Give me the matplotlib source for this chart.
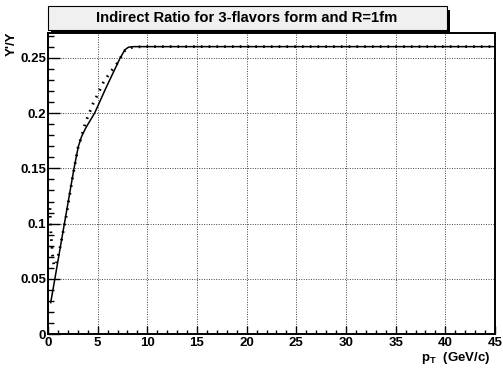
import matplotlib
matplotlib.use("Agg")
import matplotlib.pyplot as plt
from matplotlib.ticker import MultipleLocator, FixedLocator
from matplotlib.patches import Rectangle

plt.rcParams['font.family'] = ['Liberation Sans', 'DejaVu Sans']
plt.rcParams['mathtext.fontset'] = 'custom'
plt.rcParams['mathtext.bf'] = 'Liberation Sans:bold'
plt.rcParams['mathtext.rm'] = 'Liberation Sans:bold'

title = "Indirect Ratio for 3-flavors form and R=1fm"
x_label = "p$_\\mathbf{T}$  (GeV/c)"
y_label = "Y'/Y"

pt_solid = [0.27, 0.7, 1.54, 2.62, 3.05, 3.39, 3.83, 4.7, 5.8, 7.25, 7.75, 8.1, 8.6, 45.0]
ratio_solid = [0.0286, 0.0506, 0.0943, 0.150, 0.1696, 0.179, 0.187, 0.200, 0.222,
               0.2495, 0.2572, 0.2595, 0.26, 0.26]

pt_dot = [0.2, 0.3, 0.45, 0.6, 0.8, 1.2, 1.8, 2.5, 3.05, 3.39, 3.79, 4.16, 4.56,
          5.07, 5.57, 6.24, 7.18, 7.59, 8.09, 8.6, 9.5, 45.0]
ratio_dot = [0.114, 0.09, 0.072, 0.062, 0.062, 0.078, 0.105, 0.143, 0.170, 0.179,
             0.192, 0.200, 0.209, 0.218, 0.2275, 0.2365, 0.2474, 0.2555, 0.2586,
             0.2595, 0.26, 0.26]

x_ticks = [0, 5, 10, 15, 20, 25, 30, 35, 40, 45]
y_ticks = [0, 0.05, 0.1, 0.15, 0.2, 0.25]
y_tick_labels = ["0", "0.05", "0.1", "0.15", "0.2", "0.25"]

W, H = 503, 371
fig = plt.figure(figsize=(W / 100, H / 100), dpi=100)
ax = fig.add_axes([48 / W, 1 - 334.3 / H, (495 - 48) / W, (334.3 - 32.7) / H])

ax.plot(pt_solid, ratio_solid, color='black', lw=1.1, solid_joinstyle='round')
ax.plot(pt_dot, ratio_dot, color='black', lw=2.0, linestyle=(0, (0.6, 2.2)))

ax.set_xlim(0, 45)
ax.set_ylim(0, 0.2726)
ax.xaxis.set_major_locator(FixedLocator(x_ticks))
ax.xaxis.set_minor_locator(MultipleLocator(1))
ax.yaxis.set_major_locator(FixedLocator(y_ticks))
ax.yaxis.set_minor_locator(MultipleLocator(0.01))
ax.set_yticklabels(y_tick_labels)

ax.grid(True, which='major', color='#444444', linestyle=(0, (1, 1.5)), lw=0.7)
ax.tick_params(axis='both', which='both', direction='in', top=False, right=False,
               width=1.0, labelsize=9.5)
ax.tick_params(axis='x', which='major', length=6, pad=2)
ax.tick_params(axis='x', which='minor', length=3.2)
ax.tick_params(axis='y', which='major', length=8.5, pad=1.5)
ax.tick_params(axis='y', which='minor', length=4.5)
for lab in ax.get_xticklabels() + ax.get_yticklabels():
    lab.set_fontweight('bold')
for s in ax.spines.values():
    s.set_linewidth(1.4)

fig.text(490 / W, 1 - 358 / H, x_label, ha='right', va='center',
         fontsize=9.5, fontweight='bold')
fig.text(12 / W, 1 - 31 / H, y_label, ha='center', va='top', rotation=90,
         fontsize=9.5, fontweight='bold')

# title box with shadow
fig.patches.append(Rectangle((51 / W, 1 - 33 / H), (450 - 51) / W, (33 - 10) / H,
                             transform=fig.transFigure, facecolor='black',
                             edgecolor='none', zorder=1))
fig.patches.append(Rectangle((48 / W, 1 - 29.5 / H), (446.5 - 48) / W, (29.5 - 6) / H,
                             transform=fig.transFigure, facecolor='#f0f0f0',
                             edgecolor='black', lw=0.8, zorder=2))
fig.text(247 / W, 1 - 18 / H, title, ha='center', va='center', fontsize=10.6,
         fontweight='bold', zorder=3)

fig.savefig("out.png", dpi=100)
